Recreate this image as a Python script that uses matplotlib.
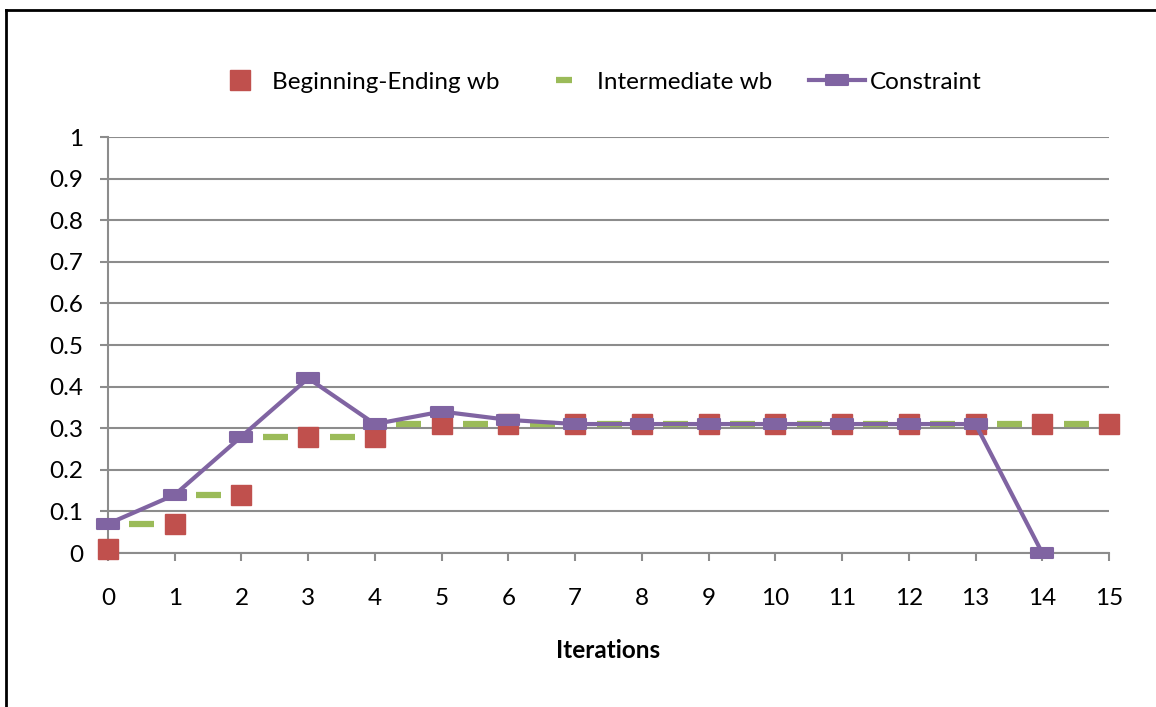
import matplotlib.pyplot as plt
from matplotlib.path import Path
from matplotlib.lines import Line2D

plt.rcParams['font.family'] = ['Lato', 'DejaVu Sans']

iterations = list(range(16))
begin_end = [0.01, 0.07, 0.14, 0.28, 0.28, 0.31, 0.31, 0.31, 0.31, 0.31, 0.31, 0.31, 0.31, 0.31, 0.31, 0.31]
# intermediate values sit between two iterations
inter = [0.07, 0.14, 0.28, 0.28, 0.31, 0.31, 0.31, 0.31, 0.31, 0.31, 0.31, 0.31, 0.31, 0.31, 0.31]
constraint_x = list(range(15))
constraint = [0.07, 0.14, 0.28, 0.42, 0.31, 0.34, 0.32, 0.31, 0.31, 0.31, 0.31, 0.31, 0.31, 0.31, 0.0]
yticks = [0, 0.1, 0.2, 0.3, 0.4, 0.5, 0.6, 0.7, 0.8, 0.9, 1]

red = '#C0504D'
green = '#9BBB59'
purple = '#8064A2'
grid = '#8C8C8C'
fs = 17.5

bar_marker = Path([(-1.1, -0.5), (1.1, -0.5), (1.1, 0.5), (-1.1, 0.5), (-1.1, -0.5)],
                  [Path.MOVETO, Path.LINETO, Path.LINETO, Path.LINETO, Path.CLOSEPOLY])

fig = plt.figure(figsize=(11.56, 7.07), dpi=100)
ax = fig.add_axes([108/1156, 1-553/707, 1001/1156, 416/707])

inter_x = [i + 0.5 for i in range(len(inter))]
ax.plot(inter_x, inter, ls='none', marker='_', ms=18, mew=4.5, color=green, zorder=3, clip_on=False)
ax.plot(iterations, begin_end, ls='none', marker='s', ms=14.5, color=red, mec=red, zorder=4, clip_on=False)
ax.plot(constraint_x, constraint, color=purple, lw=3, marker=bar_marker, ms=16.5,
        mfc=purple, mec=purple, mew=1.5, zorder=5, clip_on=False)

ax.set_xlim(0, 15)
ax.set_ylim(0, 1)
ax.set_xticks(iterations)
ax.set_yticks(yticks)
ax.set_yticklabels(['%g' % v for v in yticks])
ax.grid(axis='y', color=grid, lw=1.5)
ax.set_axisbelow(True)
for s in ['top', 'right']:
    ax.spines[s].set_visible(False)
for s in ['left', 'bottom']:
    ax.spines[s].set_color(grid)
    ax.spines[s].set_linewidth(1.5)
ax.tick_params(axis='both', colors=grid, labelcolor='black', labelsize=fs, length=6, width=1.5)
ax.tick_params(axis='y', pad=12)
ax.tick_params(axis='x', pad=19)
ax.set_xlabel('Iterations', fontsize=fs, fontweight='bold', labelpad=22)

handles = [
    Line2D([], [], ls='none', marker='s', ms=14.5, color=red),
    Line2D([], [], ls='none', marker='_', ms=12, mew=4.5, color=green),
    Line2D([], [], color=purple, lw=3, marker=bar_marker, ms=16.5, mew=1.5),
]
fig.legend(handles, ['Beginning-Ending wb', 'Intermediate wb', 'Constraint'],
           loc='center', bbox_to_anchor=(0.516, 1-82/707), ncol=3, frameon=False,
           fontsize=fs, handlelength=2.3, columnspacing=1.5, handletextpad=0.2)

# outer frame (left and top edges visible)
fig.add_artist(Line2D([6/1156, 6/1156], [0, 1-10/707], color='black', lw=2, transform=fig.transFigure))
fig.add_artist(Line2D([6/1156, 1], [1-10/707, 1-10/707], color='black', lw=2, transform=fig.transFigure))

fig.savefig('out.png')
